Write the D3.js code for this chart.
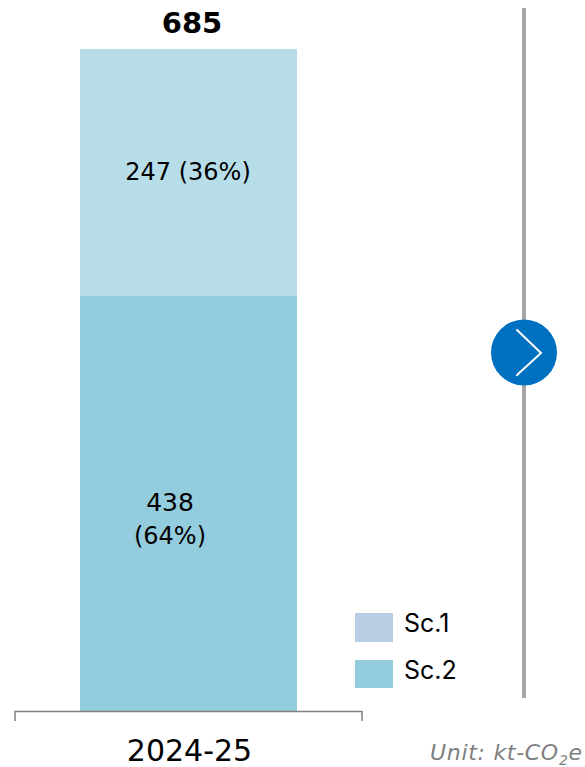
<!DOCTYPE html>
<html>
<head>
<meta charset="utf-8">
<script src="https://cdn.jsdelivr.net/npm/d3@7"></script>
<style>
html,body{margin:0;padding:0;background:#fff}
svg{display:block}
text{font-family:"DejaVu Sans",sans-serif;fill:#000}
</style>
</head>
<body>
<svg id="c" width="585" height="767"></svg>
<script>
const categories = ["2024-25"];
const seriesNames = ["Sc.2", "Sc.1"];
const sc2Values = [438];
const sc1Values = [247];
const totals = [685];
const shareSc1 = ["36%"];
const shareSc2 = ["64%"];
const unitLabel = "Unit: kt-CO";

const svg = d3.select("#c");
// The reference's segments are not strictly proportional to their labels, so the scale keeps its breakpoint.
const y = d3.scaleLinear().domain([0, sc2Values[0], totals[0]]).range([711, 296, 49]);
const barX = 80, barW = 217;

categories.forEach((c, i) => {
  svg.append("rect").attr("x", barX).attr("width", barW)
    .attr("y", y(sc2Values[i])).attr("height", y(0) - y(sc2Values[i])).attr("fill", "#93ccdd");
  svg.append("rect").attr("x", barX).attr("width", barW)
    .attr("y", y(totals[i])).attr("height", y(sc2Values[i]) - y(totals[i])).attr("fill", "#b7dde8");

  svg.append("text").attr("x", 192).attr("y", 33).attr("text-anchor", "middle")
    .attr("font-size", 29).attr("font-weight", 700).text(totals[i]);
  svg.append("text").attr("x", 188).attr("y", 180).attr("text-anchor", "middle")
    .attr("font-size", 24).text(`${sc1Values[i]} (${shareSc1[i]})`);
  svg.append("text").attr("x", 170).attr("y", 511).attr("text-anchor", "middle")
    .attr("font-size", 25).text(sc2Values[i]);
  svg.append("text").attr("x", 170).attr("y", 544).attr("text-anchor", "middle")
    .attr("font-size", 24).text(`(${shareSc2[i]})`);
});

// Category axis bracket
svg.append("path").attr("fill", "none").attr("stroke", "#7f7f7f").attr("stroke-width", 1.5)
  .attr("d", d3.line()([[15, 721], [15, 711.5], [362, 711.5], [362, 721]]));
svg.append("text").attr("x", 189.5).attr("y", 761).attr("text-anchor", "middle")
  .attr("font-size", 30).text(categories[0]);

// Legend
const legendColors = {"Sc.1": "#b8cce4", "Sc.2": "#93ccdd"};
[["Sc.1", 613, 29, 632], ["Sc.2", 660, 28, 679]].forEach(([n, ry, rh, ty]) => {
  svg.append("rect").attr("x", 355).attr("y", ry).attr("width", 38).attr("height", rh).attr("fill", legendColors[n]);
  svg.append("text").attr("x", 404).attr("y", ty).attr("font-size", 25).style("font-family", "Inter, sans-serif").text(n);
});

// Divider with arrow
svg.append("line").attr("x1", 524).attr("x2", 524).attr("y1", 8).attr("y2", 698)
  .attr("stroke", "#a6a6a6").attr("stroke-width", 4);
svg.append("circle").attr("cx", 524).attr("cy", 352.5).attr("r", 33).attr("fill", "#0070c0");
svg.append("path").attr("fill", "none").attr("stroke", "#fff").attr("stroke-width", 2).attr("stroke-linecap", "round")
  .attr("d", d3.line()([[517, 330], [541, 353], [517, 375]]));

// Unit note
const u = svg.append("text").attr("x", 430).attr("y", 760).attr("font-size", 22)
  .attr("font-style", "italic").attr("letter-spacing", 0.7).style("fill", "#7f7f7f").text(unitLabel);
u.append("tspan").attr("font-size", 14).attr("dy", 5).text("2");
u.append("tspan").attr("dy", -5).text("e");
</script>
</body>
</html>
